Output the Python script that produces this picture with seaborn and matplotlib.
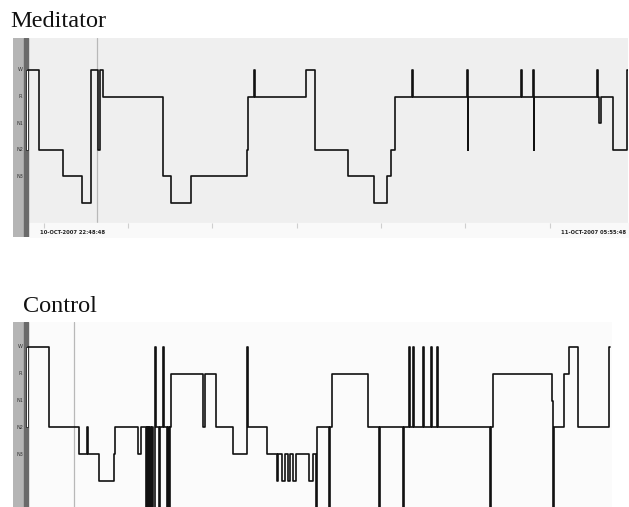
import matplotlib
matplotlib.use("Agg")
import matplotlib.pyplot as plt
import pandas as pd
import seaborn as sns

# stage codes, W on top, MT (movement) falls below the visible range
stage_labels = ["W", "R", "N1", "N2", "N3"]
level = {"W": 0, "R": 1, "N1": 2, "N2": 3, "N3": 4, "N4": 5, "MT": 7}

# minutes since 22:48:48
med_t = [0, 7.8, 24.9, 38.4, 44.8, 49.8, 51.2, 53.4, 96.1, 101.8, 116.0, 155.8,
         156.6, 160.8, 161.5, 197.8, 204.2, 227.7, 246.2, 255.5, 258.3, 261.2,
         273.3, 274.0, 312.4, 312.9, 313.4, 350.8, 351.5, 359.4, 359.9, 360.4,
         405.0, 405.6, 406.3, 407.7, 416.5, 426.5, 427.0]
med_stage = ["W", "N2", "N3", "N4", "W", "N2", "W", "R", "N3", "N4", "N3", "N2",
             "R", "W", "R", "W", "N2", "N3", "N4", "N3", "N2", "R",
             "W", "R", "W", "N2", "R", "W", "R", "W", "N2", "R",
             "W", "R", "N1", "R", "N2", "W", "W"]

ctl_t = [0, 14.9, 36.3, 42.0, 42.7, 50.5, 61.2, 61.9, 78.3, 80.4,
         84.0, 84.5, 85.2, 85.7, 86.4, 86.9, 87.6, 88.1, 88.8,
         90.4, 91.1, 93.2, 93.9, 96.1, 96.8, 98.9, 99.4, 100.3, 101.0, 101.8,
         124.5, 126.0, 133.8, 145.9, 155.9, 156.6, 170.1,
         177.2, 177.9, 181.1, 182.9, 185.0, 186.5, 188.6, 190.7,
         200.0, 202.8, 205.0, 205.7, 214.2, 214.9, 216.4, 242.0,
         249.8, 250.5, 266.9, 267.6, 271.2, 271.9, 274.0, 274.7,
         281.1, 281.8, 286.8, 287.5, 291.1, 291.8, 328.8, 329.5, 331.0,
         372.9, 373.6, 374.3, 381.5, 385.0, 391.4, 413.5, 414.0]
ctl_stage = ["W", "N2", "N3", "N2", "N3", "N4", "N3", "N2", "N3", "N2",
             "MT", "N2", "MT", "N2", "MT", "N2", "MT", "N2", "MT",
             "W", "N2", "MT", "N2", "W", "N2", "MT", "N2", "MT", "N2", "R",
             "N2", "R", "N2", "N3", "W", "N2", "N3",
             "N4", "N3", "N4", "N3", "N4", "N3", "N4", "N3",
             "N4", "N3", "MT", "N2", "MT", "N2", "R", "N2",
             "MT", "N2", "MT", "N2", "W", "N2", "W", "N2",
             "W", "N2", "W", "N2", "W", "N2", "MT", "N2", "R",
             "N1", "MT", "N2", "R", "W", "N2", "W", "W"]

hour_ticks = [11.2, 71.2, 131.2, 191.2, 251.2, 311.2, 371.2]
start_label = "10-OCT-2007 22:48:48"
end_label = "11-OCT-2007 05:55:48"

sns.set_style("white")
plt.rcParams["font.family"] = ["DejaVu Sans"]

fig = plt.figure(figsize=(6.29, 5.07), dpi=100)
px = 0.7117  # minutes per pixel


def hypnogram(ax, t, stages, xmax, ylims, bg, cursor):
    ax.set_facecolor(bg)
    df = pd.DataFrame({"t": t, "lvl": [level[s] for s in stages]})
    ax.axvline(cursor, color="#b8b8b8", lw=0.9, zorder=1)
    sns.lineplot(data=df, x="t", y="lvl", drawstyle="steps-post", estimator=None,
                 sort=False, color="#111111", lw=1.2, ax=ax, zorder=3)
    # grey stage strip on the left
    ax.axvspan(-15 * px, -4 * px, color="#b5b5b5", zorder=2)
    ax.axvspan(-4 * px, 0, color="#6a6a6a", zorder=2)
    ax.fill_between([-2.2 * px, -0.3 * px], 0, 3, color="white", ec="#222222",
                    lw=0.6, zorder=2.5)
    for i, lab in enumerate(stage_labels):
        ax.text(-8 * px, i, lab, fontsize=3.6, ha="center", va="center",
                color="#333333", zorder=4)
    ax.set_xlim(-15 * px, xmax)
    ax.set_ylim(*ylims)
    ax.set_xticks([])
    ax.set_yticks([])
    ax.set_xlabel("")
    ax.set_ylabel("")
    for s in ax.spines.values():
        s.set_visible(False)


ax1 = fig.add_axes([13 / 629, 1 - 237 / 507, 615 / 629, 199 / 507])
hypnogram(ax1, med_t, med_stage, 427.0, (6.28, -1.2), "#efefef", 49.1)
ax1.fill_between([2 * px, 427], 5.75, 6.28, color="#f9f9f9", zorder=2)
ax1.vlines(hour_ticks, 5.75, 5.95, color="#cfcfcf", lw=0.8, zorder=2)
ax1.text(12 * px, 6.12, start_label, fontsize=3.8, fontweight="bold",
         color="#222222", va="center", zorder=4)
ax1.text(426, 6.12, end_label, fontsize=3.8, fontweight="bold",
         color="#222222", va="center", ha="right", zorder=4)

ax2 = fig.add_axes([13 / 629, 0, 599 / 629, 185 / 507])
hypnogram(ax2, ctl_t, ctl_stage, 584 * px, (5.97, -0.93), "#fbfbfb", 32.7)

fig.text(10 / 629, 1 - 27 / 507, "Meditator", fontsize=17.5,
         family=["Liberation Serif", "DejaVu Serif"], color="#111111")
fig.text(23 / 629, 1 - 312 / 507, "Control", fontsize=17.5,
         family=["Liberation Serif", "DejaVu Serif"], color="#111111")

fig.savefig("out.png", dpi=100, facecolor="white")
